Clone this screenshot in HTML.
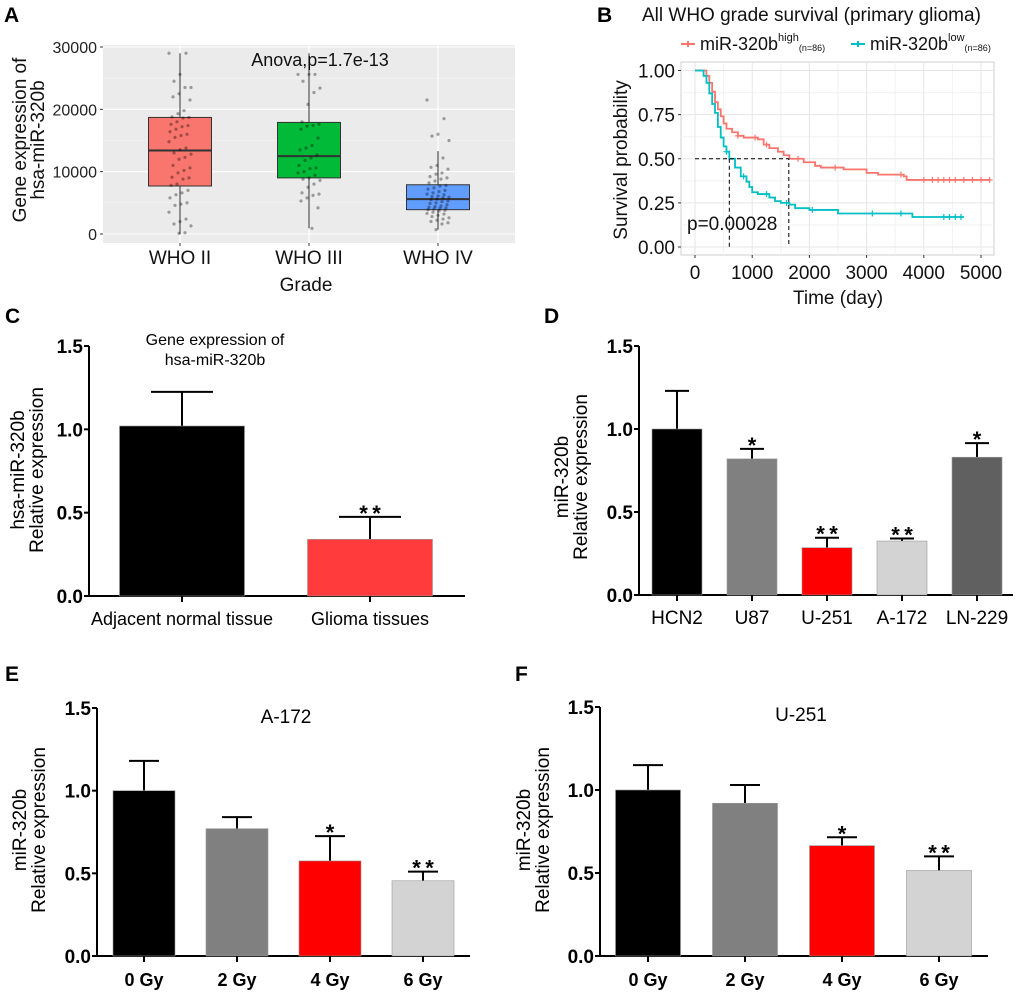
<!DOCTYPE html>
<html><head><meta charset="utf-8"><style>
html,body{margin:0;padding:0;background:#fff}
svg{display:block;font-family:"Liberation Sans",Arial,sans-serif}
</style></head><body>
<svg id="fig" width="1020" height="992" viewBox="0 0 1020 992" xmlns="http://www.w3.org/2000/svg">
<g font-weight="bold" font-size="21" fill="#000">
<text x="4" y="22">A</text>
<text x="597" y="22">B</text>
<text x="5" y="323">C</text>
<text x="544" y="323">D</text>
<text x="5" y="681">E</text>
<text x="515" y="681">F</text>
</g>
<g id="pa"></g>
<g id="pb"></g>
<g id="pc"></g>
<g id="pd"></g>
<g id="pe"></g>
<g id="pf"></g>
</svg>
<script>
// ---------- Panel A data ----------
const gradeCats = ["WHO II", "WHO III", "WHO IV"];
const gradeQ1 = [7700, 9000, 3900];
const gradeMed = [13400, 12500, 5600];
const gradeQ3 = [18700, 17900, 7900];
const gradeWLo = [0, 900, 700];
const gradeWHi = [29000, 29000, 13300];
const gradeColors = ["#f8766d", "#00ba38", "#619cff"];
const ptsII = [29000,29000,25600,24500,23500,23500,22500,22000,21500,19800,19300,18800,18700,18600,18000,17600,17400,17200,16800,16400,16000,15800,15500,14800,13800,13500,13000,12800,12300,12000,11000,10600,10200,9800,9100,9000,8800,8000,7800,7000,6600,6300,5800,5000,4800,4600,3500,2400,2000,1600,1300,200,100];
const ptsIII = [25600,25600,25600,24500,23400,22700,20800,18000,17600,17400,17300,16800,15400,14200,13800,13500,12700,12200,11800,11000,10600,10500,10000,9800,9400,9000,8800,8600,8000,7500,6600,6400,6200,5800,5300,4200,900];
const ptsIV = [21500,18500,16000,15700,15000,12200,11000,10700,10400,9800,9600,9200,9000,8800,8500,8200,7800,7700,7400,7200,7000,6800,6600,6400,6300,6100,6000,5900,5800,5600,5500,5300,5200,5000,4900,4700,4500,4400,4300,4200,4100,4000,3900,3800,3700,3500,3300,3200,3000,2800,2600,2400,2200,2000,1800,1600,700];
const gradePts = [ptsII, ptsIII, ptsIV];
const aTicks = [0, 10000, 20000, 30000];

// ---------- Panel B data ----------
const hiT = [0,100,200,250,300,350,400,450,500,550,650,750,850,1100,1200,1300,1450,1550,1650,1900,2100,2200,2600,3000,3200,3650,3700,5150];
const hiS = [1,1,0.97,0.93,0.88,0.82,0.78,0.74,0.70,0.67,0.65,0.63,0.62,0.61,0.58,0.56,0.54,0.52,0.50,0.48,0.46,0.45,0.44,0.42,0.41,0.40,0.38,0.38];
const loT = [0,100,150,200,250,300,350,400,450,500,550,600,700,800,900,950,1000,1100,1300,1400,1500,1650,1750,2000,2500,3800,4700];
const loS = [1,1,0.97,0.93,0.87,0.81,0.76,0.68,0.62,0.57,0.54,0.50,0.45,0.40,0.37,0.34,0.31,0.30,0.28,0.26,0.25,0.24,0.22,0.21,0.19,0.17,0.17];
const hiCensor = [750,1050,1250,1800,2450,3600,4000,4150,4250,4350,4450,4550,4700,4850,5000,5150];
const loCensor = [550,850,1250,1600,2050,3100,3600,4350,4450,4550,4650];
const bXTicks = [0,1000,2000,3000,4000,5000];
const bYTicks = [0,0.25,0.5,0.75,1];

// ---------- Panel C data ----------
const cCats = ["Adjacent normal tissue", "Glioma tissues"];
const cVals = [1.02, 0.34];
const cErr = [0.205, 0.135];
const cSig = ["", "**"];
// ---------- Panel D data ----------
const dCats = ["HCN2", "U87", "U-251", "A-172", "LN-229"];
const dVals = [1.0, 0.82, 0.285, 0.325, 0.83];
const dErr = [0.23, 0.06, 0.06, 0.015, 0.085];
const dSig = ["", "*", "**", "**", "*"];
// ---------- Panel E data ----------
const eCats = ["0 Gy", "2 Gy", "4 Gy", "6 Gy"];
const eVals = [1.0, 0.77, 0.575, 0.455];
const eErr = [0.18, 0.07, 0.15, 0.055];
const eSig = ["", "", "*", "**"];
// ---------- Panel F data ----------
const fCats = ["0 Gy", "2 Gy", "4 Gy", "6 Gy"];
const fVals = [1.0, 0.92, 0.665, 0.515];
const fErr = [0.15, 0.11, 0.05, 0.085];
const fSig = ["", "", "*", "**"];
const barTicks = [0, 0.5, 1.0, 1.5];

const NS = "http://www.w3.org/2000/svg";
function mk(parent, tag, attrs, text) {
  const el = document.createElementNS(NS, tag);
  for (const k in attrs) el.setAttribute(k, attrs[k]);
  if (text !== undefined) el.textContent = text;
  parent.appendChild(el);
  return el;
}

// ---------- Panel A ----------
(function () {
  const g = document.getElementById("pa");
  const L = 103, R = 515, T = 45, B = 243;
  const yA = v => 234 - v / 30000 * 187;
  const xA = i => 180 + i * 129;
  const bg = mk(g, "rect", {x: L, y: T, width: R - L, height: B - T, fill: "#ebebeb"});
  
  
  for (let v = 5000; v < 30000; v += 10000) mk(g, "line", {x1: L, x2: R, y1: yA(v), y2: yA(v), stroke: "#f6f6f6", "stroke-width": 0.6});
  aTicks.forEach(v => {
    mk(g, "line", {x1: L, x2: R, y1: yA(v), y2: yA(v), stroke: "#fff", "stroke-width": 1.1});
    mk(g, "line", {x1: L - 3, x2: L, y1: yA(v), y2: yA(v), stroke: "#333"});
    const t = mk(g, "text", {x: L - 6, y: yA(v) + 6, "text-anchor": "end", "font-size": 16, fill: "#222"}, String(v));
    
    
  });
  gradeCats.forEach((c, i) => {
    const x = xA(i);
    mk(g, "line", {x1: x, x2: x, y1: T, y2: B, stroke: "#fff", "stroke-width": 1.1});
    mk(g, "line", {x1: x, x2: x, y1: yA(gradeWLo[i]), y2: yA(gradeWHi[i]), stroke: "#333", "stroke-width": 1});
    const box = mk(g, "rect", {x: x - 31.5, y: yA(gradeQ3[i]), width: 63, height: yA(gradeQ1[i]) - yA(gradeQ3[i]), fill: gradeColors[i], stroke: "#333", "stroke-width": 1});
    
    
    mk(g, "line", {x1: x - 31.5, x2: x + 31.5, y1: yA(gradeMed[i]), y2: yA(gradeMed[i]), stroke: "#333", "stroke-width": 2});
    gradePts[i].forEach((v, j) => {
      const jit = ((j * 17) % 23 - 11) * 1.0;
      const p = mk(g, "circle", {cx: x + jit, cy: yA(v), r: 1.6, fill: "#000", "fill-opacity": 0.35});
      
      
    });
    mk(g, "line", {x1: x, x2: x, y1: B, y2: B + 3, stroke: "#333"});
    const t = mk(g, "text", {x: x, y: 264, "text-anchor": "middle", "font-size": 19, fill: "#111"}, c);
    
    
  });
  const an = mk(g, "text", {x: 320, y: 66, "text-anchor": "middle", "font-size": 18, fill: "#111"}, "Anova,p=1.7e-13");
  
  
  const xt = mk(g, "text", {x: 306, y: 291, "text-anchor": "middle", "font-size": 19, fill: "#111"}, "Grade");
  
  
  const yt = mk(g, "text", {transform: "translate(26,140) rotate(-90)", "text-anchor": "middle", "font-size": 19, fill: "#111"});
  
  
  mk(yt, "tspan", {x: 0, dy: 0}, "Gene expression of");
  mk(yt, "tspan", {x: 0, dy: 18}, "hsa-miR-320b");
})();

// ---------- Panel B ----------
(function () {
  const g = document.getElementById("pb");
  const L = 681, R = 994, T = 62, B = 255;
  const xB = t => 695 + t / 5000 * 286;
  const yB = s => 247 - s * 176.5;
  mk(g, "rect", {x: L, y: T, width: R - L, height: B - T, fill: "#fff", stroke: "#cfcfcf", "stroke-width": 1});
  for (let t = 500; t < 5200; t += 1000) mk(g, "line", {x1: xB(t), x2: xB(t), y1: T, y2: B, stroke: "#f2f2f2"});
  for (let s = 0.125; s < 1; s += 0.25) mk(g, "line", {x1: L, x2: R, y1: yB(s), y2: yB(s), stroke: "#f2f2f2"});
  bXTicks.forEach(t => {
    mk(g, "line", {x1: xB(t), x2: xB(t), y1: T, y2: B, stroke: "#e6e6e6"});
    mk(g, "line", {x1: xB(t), x2: xB(t), y1: B, y2: B + 3, stroke: "#333"});
    const tl = mk(g, "text", {x: xB(t), y: 279, "text-anchor": "middle", "font-size": 19, fill: "#111"}, String(t));
    
    
  });
  bYTicks.forEach(s => {
    mk(g, "line", {x1: L, x2: R, y1: yB(s), y2: yB(s), stroke: "#e6e6e6"});
    mk(g, "line", {x1: L - 3, x2: L, y1: yB(s), y2: yB(s), stroke: "#333"});
    const tl = mk(g, "text", {x: L - 6, y: yB(s) + 7, "text-anchor": "end", "font-size": 19, fill: "#111"}, s.toFixed(2));
    
    
  });
  function step(T_, S_) {
    let d = "M" + xB(T_[0]) + "," + yB(S_[0]);
    for (let i = 1; i < T_.length; i++) d += "H" + xB(T_[i]) + "V" + yB(S_[i]);
    return d;
  }
  function sAt(T_, S_, t) { let s = S_[0]; for (let i = 0; i < T_.length; i++) if (T_[i] <= t) s = S_[i]; return s; }
  const series = [[hiT, hiS, hiCensor, "#f8766d", "curve-high"], [loT, loS, loCensor, "#00bfc4", "curve-low"]];
  series.forEach(([T_, S_, C_, col, nm]) => {
    const p = mk(g, "path", {d: step(T_, S_), fill: "none", stroke: col, "stroke-width": 1.8});
    
    
    C_.forEach(t => {
      const x = xB(t), y = yB(sAt(T_, S_, t));
      const c = mk(g, "path", {d: `M${x-3},${y}H${x+3}M${x},${y-3}V${y+3}`, stroke: col, "stroke-width": 1.2});
      
      
    });
  });
  const dash = {stroke: "#000", "stroke-width": 1, "stroke-dasharray": "4,3", fill: "none"};
  mk(g, "path", Object.assign({d: `M${xB(0)},${yB(0.5)}H${xB(1640)}V${yB(0)}M${xB(600)},${yB(0.5)}V${yB(0)}`}, dash));
  const pv = mk(g, "text", {x: 687, y: 230, "font-size": 19, fill: "#111"}, "p=0.00028");
  
  
  const ti = mk(g, "text", {x: 642, y: 21, "font-size": 19, fill: "#111"}, "All WHO grade survival (primary glioma)");
  
  
  [[681, "#f8766d", "high", "legend-entry-high"], [851, "#00bfc4", "low", "legend-entry-low"]].forEach(([x, col, sup, nm]) => {
    const lg = mk(g, "g", {});
    
    
    mk(lg, "path", {d: `M${x},44H${x+14}M${x+7},41V47`, stroke: col, "stroke-width": 2});
    const t = mk(lg, "text", {x: x + 19, y: 50, "font-size": 18, fill: "#111"});
    t.appendChild(document.createTextNode("miR-320b"));
    mk(t, "tspan", {"font-size": 11, dy: -9}, sup);
    mk(t, "tspan", {"font-size": 9, dy: 10}, "(n=86)");
  });
  const xt = mk(g, "text", {x: 838, y: 304, "text-anchor": "middle", "font-size": 19, fill: "#111"}, "Time (day)");
  
  
  const yt = mk(g, "text", {transform: "translate(627,160) rotate(-90)", "text-anchor": "middle", "font-size": 19, fill: "#111"}, "Survival probability");
  
  
})();

// ---------- Bar charts ----------
function barChart(id, cfg, cats, vals, errs, sigs, colors) {
  const g = document.getElementById(id);
  const y = v => cfg.y0 - v / 1.5 * (cfg.y0 - cfg.y15);
  const x = i => cfg.c0 + i * cfg.step;
  mk(g, "path", {d: `M${cfg.ax},${cfg.y15}V${cfg.y0}H${cfg.axEnd}`, fill: "none", stroke: "#000", "stroke-width": 2});
  barTicks.forEach(v => {
    mk(g, "line", {x1: cfg.ax - 5, x2: cfg.ax, y1: y(v), y2: y(v), stroke: "#000", "stroke-width": 2});
    const t = mk(g, "text", {x: cfg.ax - 6, y: y(v) + 7, "text-anchor": "end", "font-size": 19, "font-weight": "bold", fill: "#000"}, v.toFixed(1));
    
    
  });
  cats.forEach((c, i) => {
    const cx = x(i), top = y(vals[i] + errs[i]);
    mk(g, "path", {d: `M${cx},${y(vals[i])}V${top}M${cx - cfg.cap},${top}H${cx + cfg.cap}`, stroke: "#000", "stroke-width": 2});
    const b = mk(g, "rect", {x: cx - cfg.bw / 2, y: y(vals[i]), width: cfg.bw, height: cfg.y0 - y(vals[i]), fill: colors[i], stroke: "#999", "stroke-width": 0.6});
    
    
    if (sigs[i]) {
      const s = mk(g, "text", {x: cx, y: top + 4, "text-anchor": "middle", "font-size": 22, "font-weight": "bold", fill: "#000"}, sigs[i].split("").join("\u2009"));
      
      
    }
    mk(g, "line", {x1: cx, x2: cx, y1: cfg.y0, y2: cfg.y0 + 6, stroke: "#000", "stroke-width": 2});
    const t = mk(g, "text", {x: cx, y: cfg.y0 + cfg.labDy, "text-anchor": "middle", "font-size": cfg.labFs, "font-weight": cfg.labW, fill: "#000"}, c);
    
    
  });
  const yt = mk(g, "text", {transform: `translate(${cfg.ytx},${cfg.yty}) rotate(-90)`, "text-anchor": "middle", "font-size": 19, fill: "#000"});
  
  
  mk(yt, "tspan", {x: 0, dy: 0}, cfg.yt1);
  mk(yt, "tspan", {x: 0, dy: 19}, "Relative expression");
  if (cfg.title) {
    const tt = mk(g, "text", {x: cfg.tx, y: cfg.ty, "text-anchor": "middle", "font-size": cfg.tfs, fill: "#000"});
    
    
    cfg.title.forEach((l, k) => mk(tt, "tspan", {x: cfg.tx, dy: k ? 20 : 0}, l));
  }
}
barChart("pc", {ax: 89, axEnd: 465, y0: 596, y15: 346, c0: 182, step: 188, bw: 125, cap: 31, labDy: 29, labFs: 18, labW: "normal", ytx: 24, yty: 470, yt1: "hsa-miR-320b", title: ["Gene expression of", "hsa-miR-320b"], tx: 215, ty: 345, tfs: 16},
  cCats, cVals, cErr, cSig, ["#000000", "#ff3b3b"]);
barChart("pd", {ax: 639, axEnd: 1013, y0: 595, y15: 346, c0: 677, step: 75, bw: 50, cap: 12, labDy: 29, labFs: 19, labW: "normal", ytx: 568, yty: 477, yt1: "miR-320b"},
  dCats, dVals, dErr, dSig, ["#000000", "#808080", "#ff0000", "#d3d3d3", "#606060"]);
barChart("pe", {ax: 97, axEnd: 470, y0: 956, y15: 708, c0: 144, step: 93, bw: 62, cap: 15, labDy: 30, labFs: 18, labW: "bold", ytx: 26, yty: 830, yt1: "miR-320b", title: ["A-172"], tx: 286, ty: 723, tfs: 19},
  eCats, eVals, eErr, eSig, ["#000000", "#808080", "#ff0000", "#d3d3d3"]);
barChart("pf", {ax: 600, axEnd: 988, y0: 956, y15: 707, c0: 648, step: 97, bw: 65, cap: 15, labDy: 30, labFs: 18, labW: "bold", ytx: 530, yty: 830, yt1: "miR-320b", title: ["U-251"], tx: 801, ty: 721, tfs: 19},
  fCats, fVals, fErr, fSig, ["#000000", "#808080", "#ff0000", "#d3d3d3"]);
</script>
</body></html>
